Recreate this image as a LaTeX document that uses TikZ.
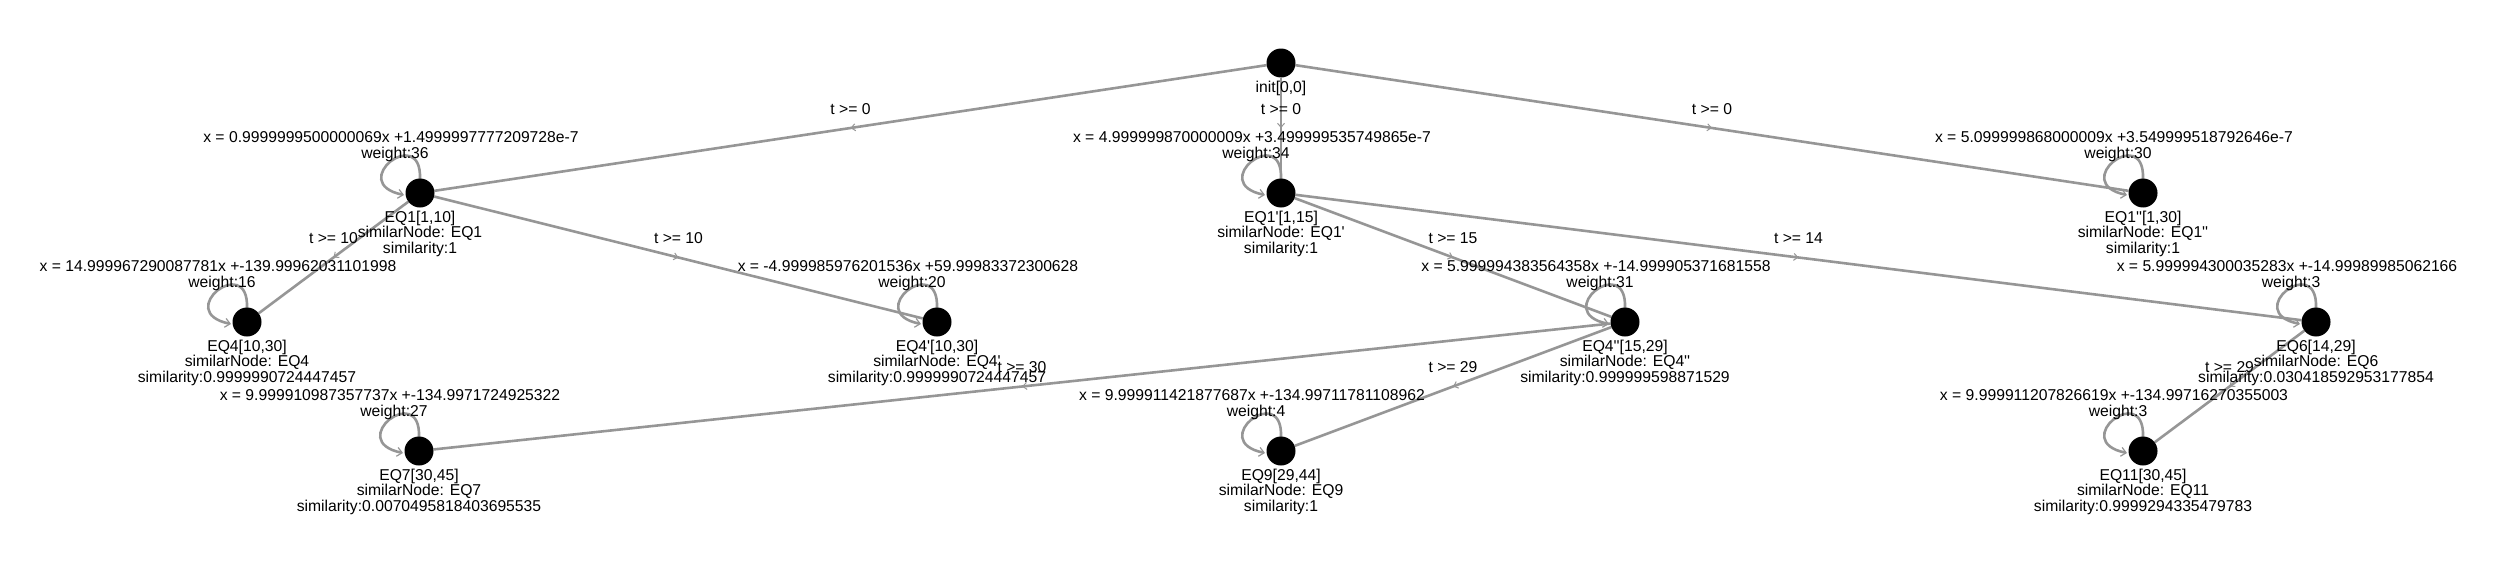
\documentclass[tikz,border=0pt]{standalone}
\usepackage{fontspec}
\setmainfont{Liberation Sans}
\usetikzlibrary{arrows.meta,decorations.markings,calc}
\definecolor{edgegray}{RGB}{150,150,150}
\pgfdeclarelayer{bg}
\pgfsetlayers{bg,main}
\newcommand\qq{\textquotesingle}
\tikzset{
  gn/.style={circle, fill=black, draw=none, minimum size=29pt, inner sep=0pt},
  txt/.style={font=\fontsize{15.7}{15.3}\selectfont, inner sep=0pt, text=black},
  gl/.style={txt, align=center, anchor=north},
  edgeln/.style={draw=edgegray, line width=2.6pt, postaction={decorate},
    decoration={markings, mark=at position 0.5 with {\arrow{Straight Barb[length=4pt,width=7pt,line width=1pt]}}}},
  selfloop/.style={draw=edgegray, line width=2.6pt, -{Straight Barb[length=5pt,width=9pt,line width=1.2pt]}}
}
% node: name, x, y, line1, line2, line3
\newcommand\gnode[6]{%
  \node[gn] (#1) at (#2,#3) {};
  \node[gl] (#1-lab) at ($(#1)+(0,18)$) {#4\\#5\\#6};
}
% self loop: node, equation, weight
\newcommand\sloop[3]{%
  \begin{pgfonlayer}{bg}
  \draw[selfloop] ($(#1)+(0,-14)$) .. controls ($(#1)+(2,-70)$) and ($(#1)+(-75,-10)$) .. ($(#1)+(-16,2)$);
  \end{pgfonlayer}
  \node[txt,anchor=base] (#1-eq) at ($(#1)+(-29,-50.3)$) {#2};
  \node[txt,anchor=base] (#1-w) at ($(#1)+(-25,-34.7)$) {weight:#3};
}
% edge: from, to, label
\newcommand\tedge[3]{%
  \begin{pgfonlayer}{bg}
  \draw[edgeln] (#1) -- (#2);
  \end{pgfonlayer}
  \node[txt,anchor=base] (#1-#2-t) at ($(#1)!0.5!(#2)+(0,-14)$) {#3};
}
\begin{document}
\begin{tikzpicture}[x=1pt,y=-1pt]
\useasboundingbox (0,0) rectangle (2500,562);
% nodes
\node[gn] (init) at (1281,63) {};
\node[gl] (init-lab) at ($(init)+(0,18)$) {init[0,0]};
\gnode{eqa}{420}{193}{EQ1[1,10]}{similarNode: EQ1}{similarity:1}
\gnode{eqb}{1281}{193}{EQ1\qq[1,15]}{similarNode: EQ1\qq}{similarity:1}
\gnode{eqc}{2143}{193}{EQ1\qq\qq[1,30]}{similarNode: EQ1\qq\qq}{similarity:1}
\gnode{eqd}{247}{322}{EQ4[10,30]}{similarNode: EQ4}{similarity:0.9999990724447457}
\gnode{eqe}{937}{322}{EQ4\qq[10,30]}{similarNode: EQ4\qq}{similarity:0.9999990724447457}
\gnode{eqf}{1625}{322}{EQ4\qq\qq[15,29]}{similarNode: EQ4\qq\qq}{similarity:0.999999598871529}
\gnode{eqg}{2316}{322}{EQ6[14,29]}{similarNode: EQ6}{similarity:0.030418592953177854}
\gnode{eqh}{419}{451}{EQ7[30,45]}{similarNode: EQ7}{similarity:0.0070495818403695535}
\gnode{eqi}{1281}{451}{EQ9[29,44]}{similarNode: EQ9}{similarity:1}
\gnode{eqj}{2143}{451}{EQ11[30,45]}{similarNode: EQ11}{similarity:0.9999294335479783}
% self loops
\sloop{eqa}{x = 0.9999999500000069x +1.4999997777209728e-7}{36}
\sloop{eqb}{x = 4.999999870000009x +3.499999535749865e-7}{34}
\sloop{eqc}{x = 5.099999868000009x +3.549999518792646e-7}{30}
\sloop{eqd}{x = 14.999967290087781x +-139.99962031101998}{16}
\sloop{eqe}{x = -4.999985976201536x +59.99983372300628}{20}
\sloop{eqf}{x = 5.999994383564358x +-14.999905371681558}{31}
\sloop{eqg}{x = 5.999994300035283x +-14.99989985062166}{3}
\sloop{eqh}{x = 9.999910987357737x +-134.9971724925322}{27}
\sloop{eqi}{x = 9.999911421877687x +-134.99711781108962}{4}
\sloop{eqj}{x = 9.999911207826619x +-134.99716270355003}{3}
% edges
\tedge{init}{eqa}{t >= 0}
\tedge{init}{eqb}{t >= 0}
\tedge{init}{eqc}{t >= 0}
\tedge{eqa}{eqd}{t >= 10}
\tedge{eqa}{eqe}{t >= 10}
\tedge{eqb}{eqf}{t >= 15}
\tedge{eqb}{eqg}{t >= 14}
\tedge{eqf}{eqh}{t >= 30}
\tedge{eqf}{eqi}{t >= 29}
\tedge{eqg}{eqj}{t >= 29}
\end{tikzpicture}
\end{document}
